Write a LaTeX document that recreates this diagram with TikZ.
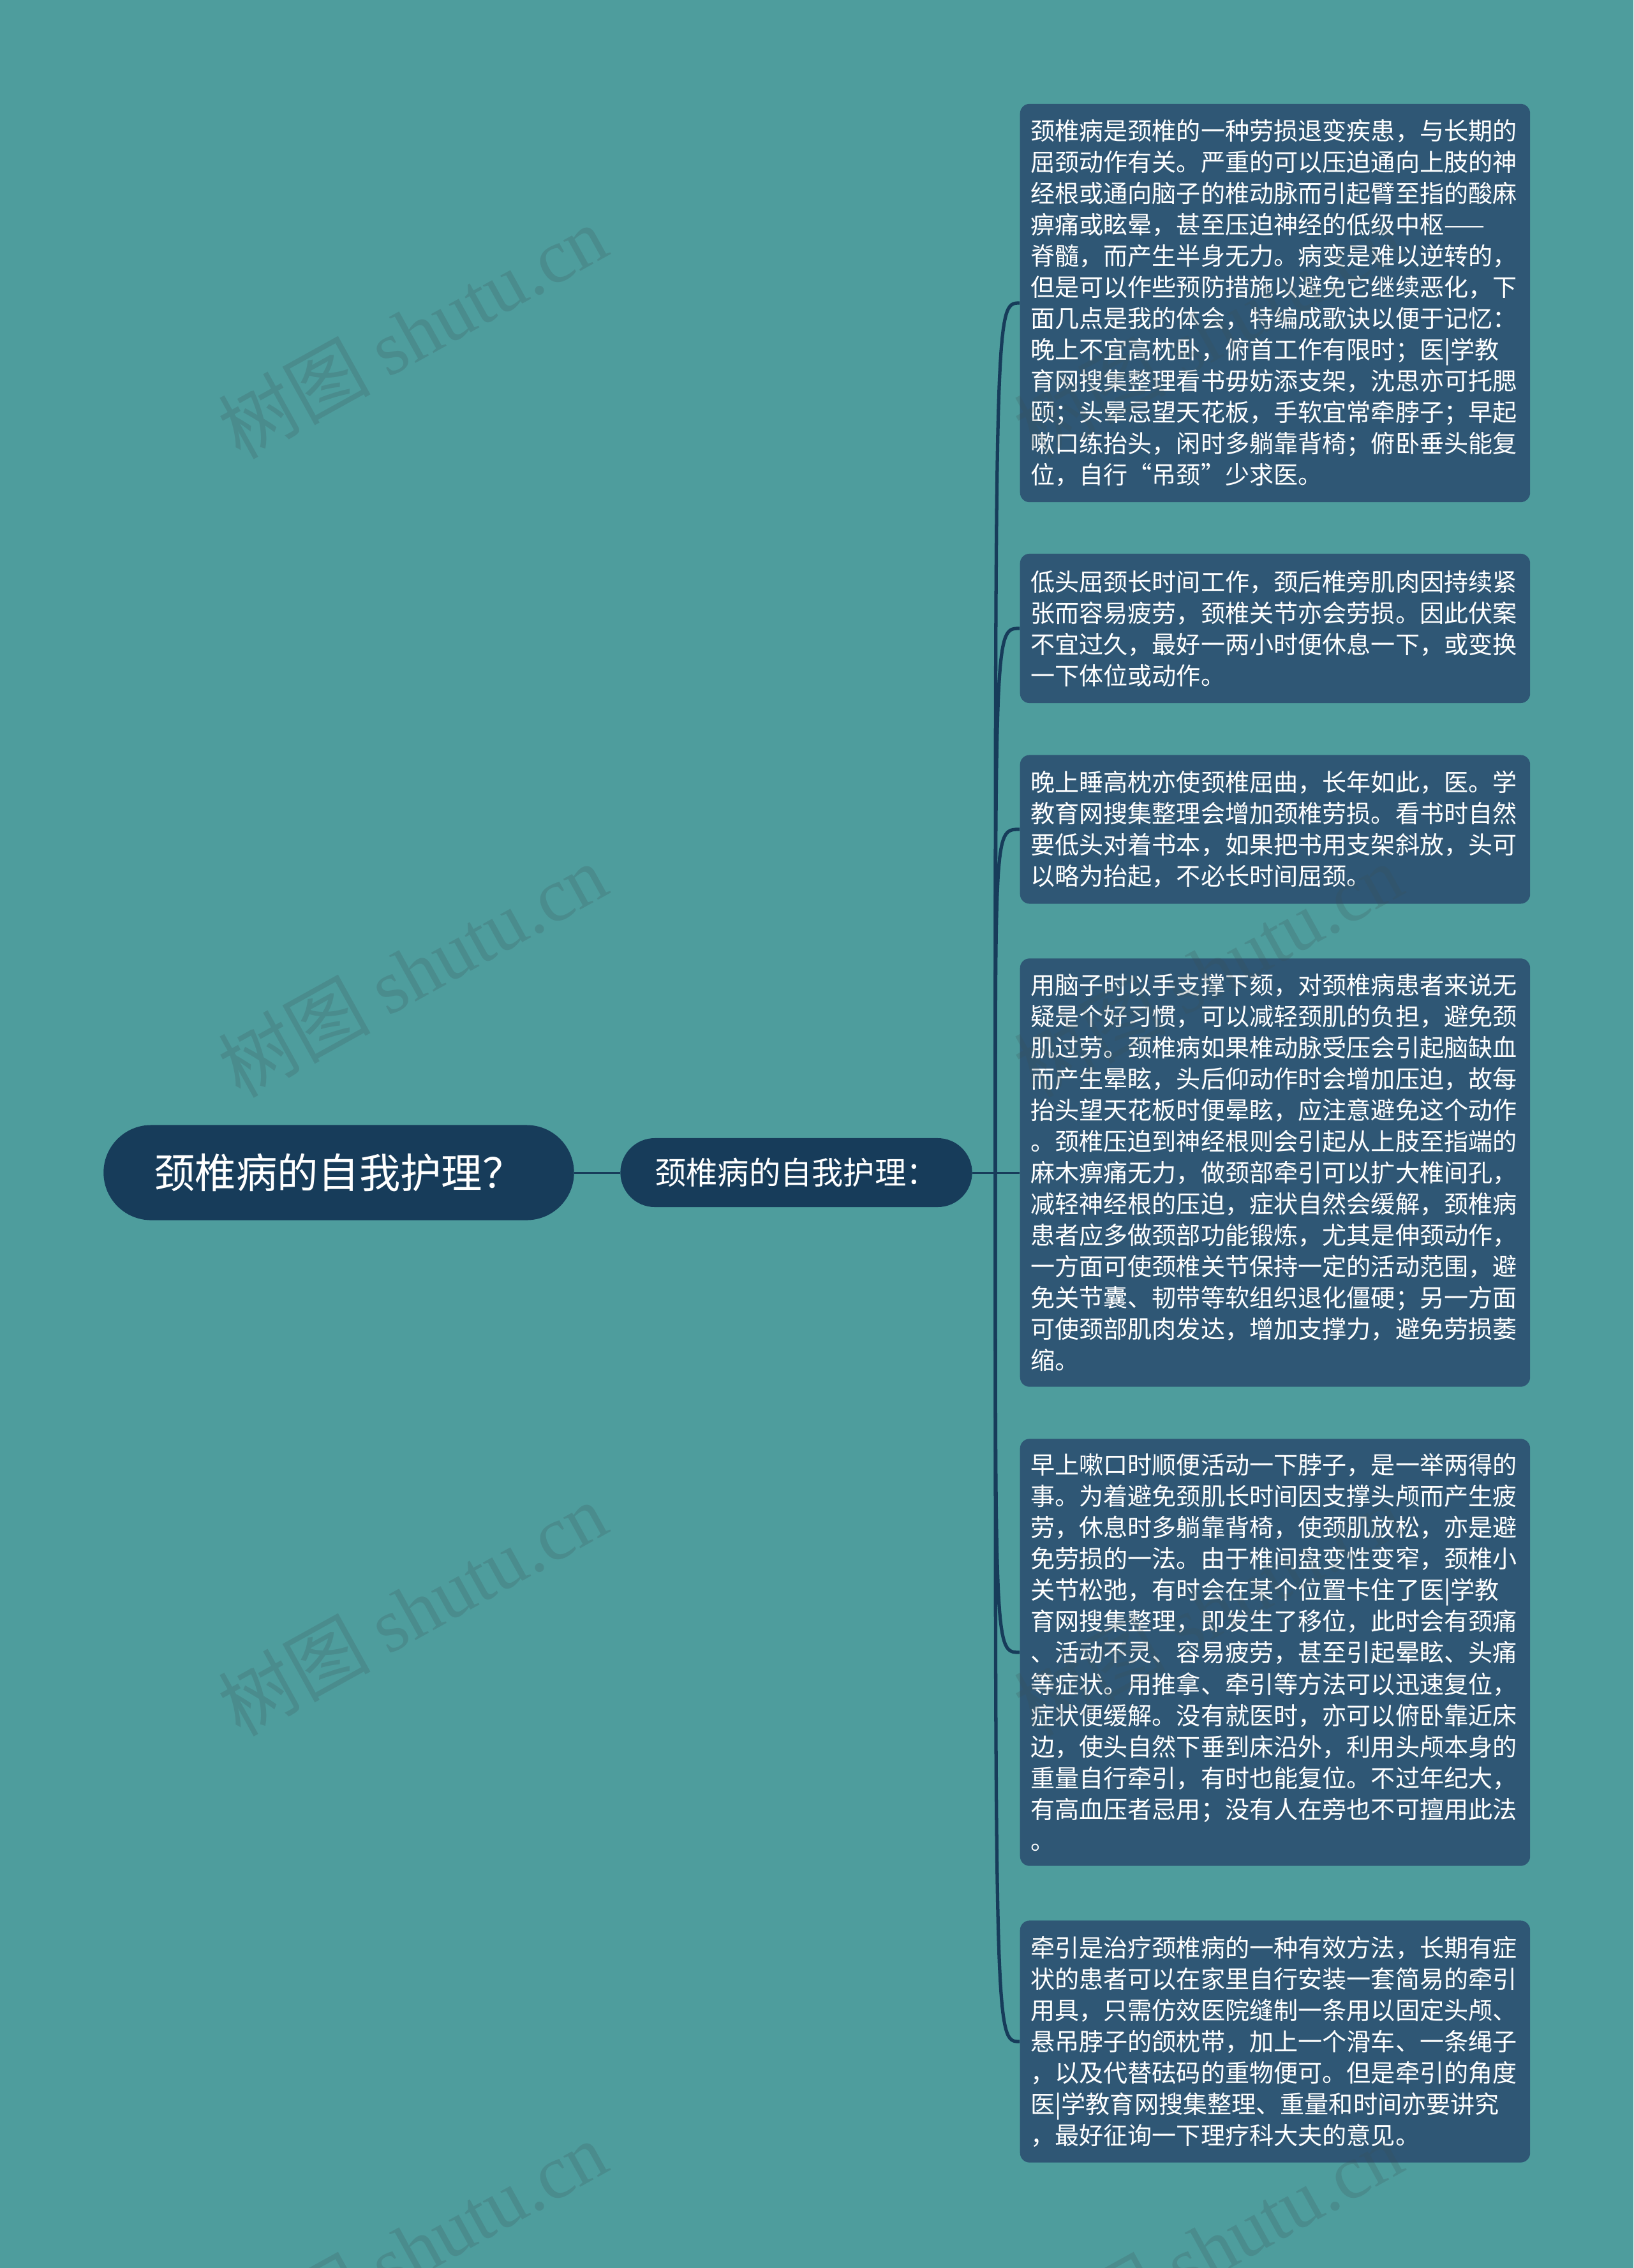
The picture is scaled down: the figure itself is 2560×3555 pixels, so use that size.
\documentclass[tikz,border=0pt]{standalone}
\usepackage{fontspec}
\setmainfont{Noto Sans CJK SC}
\newfontfamily\wmfont{Liberation Serif}
\definecolor{bgteal}{RGB}{78,157,157}
\definecolor{darknavy}{RGB}{23,60,90}
\definecolor{leafblue}{RGB}{47,87,117}
\definecolor{wmgray}{RGB}{60,80,85}

\begin{document}
\begin{tikzpicture}[x=0.01cm,y=-0.01cm]
\tikzstyle{rootnode} = [fill=darknavy, text=white, rounded corners=0.745cm, minimum width=7.37cm, minimum height=1.49cm, inner sep=0, font=\fontsize{18.3}{22}\selectfont]
\tikzstyle{subnode} = [fill=darknavy, text=white, rounded corners=0.54cm, minimum width=5.51cm, minimum height=1.08cm, inner sep=0, font=\fontsize{14}{17}\selectfont]
\tikzstyle{leafnode} = [fill=leafblue, text=white, rounded corners=0.15cm, anchor=west, text width=7.66cm, align=left, inner xsep=0.165cm, inner ysep=0, font=\fontsize{10.84}{13.94}\selectfont]
\tikzstyle{branch} = [draw=darknavy, line width=0.85pt]
\tikzstyle{twig} = [draw=darknavy, line width=1.5pt]
\tikzstyle{wm} = [rotate=29, text=wmgray, text opacity=0.22, font=\fontsize{34}{40}\selectfont]

\useasboundingbox (0,0) rectangle (2560,3555);
\fill [bgteal] (0,0) rectangle (2560,3555);

\node [rootnode] (root) at (531,1838) {颈椎病的自我护理？};
\node [subnode] (sub) at (1248,1838) {颈椎病的自我护理：};

\node [leafnode, minimum height=6.24cm] (t1) at (1598,475) {颈椎病是颈椎的一种劳损退变疾患，与长期的\\屈颈动作有关。严重的可以压迫通向上肢的神\\经根或通向脑子的椎动脉而引起臂至指的酸麻\\痹痛或眩晕，甚至压迫神经的低级中枢——\\脊髓，而产生半身无力。病变是难以逆转的，\\但是可以作些预防措施以避免它继续恶化，下\\面几点是我的体会，特编成歌诀以便于记忆：\\晚上不宜高枕卧，俯首工作有限时；医|学教\\育网搜集整理看书毋妨添支架，沈思亦可托腮\\颐；头晕忌望天花板，手软宜常牵脖子；早起\\嗽口练抬头，闲时多躺靠背椅；俯卧垂头能复\\位，自行“吊颈”少求医。};
\node [leafnode, minimum height=2.34cm] (t2) at (1598,985) {低头屈颈长时间工作，颈后椎旁肌肉因持续紧\\张而容易疲劳，颈椎关节亦会劳损。因此伏案\\不宜过久，最好一两小时便休息一下，或变换\\一下体位或动作。};
\node [leafnode, minimum height=2.33cm] (t3) at (1598,1300) {晚上睡高枕亦使颈椎屈曲，长年如此，医。学\\教育网搜集整理会增加颈椎劳损。看书时自然\\要低头对着书本，如果把书用支架斜放，头可\\以略为抬起，不必长时间屈颈。};
\node [leafnode, minimum height=6.71cm] (t4) at (1598,1838) {用脑子时以手支撑下颏，对颈椎病患者来说无\\疑是个好习惯，可以减轻颈肌的负担，避免颈\\肌过劳。颈椎病如果椎动脉受压会引起脑缺血\\而产生晕眩，头后仰动作时会增加压迫，故每\\抬头望天花板时便晕眩，应注意避免这个动作\\。颈椎压迫到神经根则会引起从上肢至指端的\\麻木痹痛无力，做颈部牵引可以扩大椎间孔，\\减轻神经根的压迫，症状自然会缓解，颈椎病\\患者应多做颈部功能锻炼，尤其是伸颈动作，\\一方面可使颈椎关节保持一定的活动范围，避\\免关节囊、韧带等软组织退化僵硬；另一方面\\可使颈部肌肉发达，增加支撑力，避免劳损萎\\缩。};
\node [leafnode, minimum height=6.69cm] (t5) at (1598,2590) {早上嗽口时顺便活动一下脖子，是一举两得的\\事。为着避免颈肌长时间因支撑头颅而产生疲\\劳，休息时多躺靠背椅，使颈肌放松，亦是避\\免劳损的一法。由于椎间盘变性变窄，颈椎小\\关节松弛，有时会在某个位置卡住了医|学教\\育网搜集整理，即发生了移位，此时会有颈痛\\、活动不灵、容易疲劳，甚至引起晕眩、头痛\\等症状。用推拿、牵引等方法可以迅速复位，\\症状便缓解。没有就医时，亦可以俯卧靠近床\\边，使头自然下垂到床沿外，利用头颅本身的\\重量自行牵引，有时也能复位。不过年纪大，\\有高血压者忌用；没有人在旁也不可擅用此法\\。};
\node [leafnode, minimum height=3.79cm] (t6) at (1598,3200) {牵引是治疗颈椎病的一种有效方法，长期有症\\状的患者可以在家里自行安装一套简易的牵引\\用具，只需仿效医院缝制一条用以固定头颅、\\悬吊脖子的颌枕带，加上一个滑车、一条绳子\\，以及代替砝码的重物便可。但是牵引的角度\\医|学教育网搜集整理、重量和时间亦要讲究\\，最好征询一下理疗科大夫的意见。};

\coordinate (fork) at (1560,1838);

\draw [branch] (root) -- (sub);
\draw [branch] (sub.east) -- (t4.west);
\draw [twig] (fork) .. controls (fork |- t1.west) .. (t1.west);
\draw [twig] (fork) .. controls (fork |- t2.west) .. (t2.west);
\draw [twig] (fork) .. controls (fork |- t3.west) .. (t3.west);
\draw [twig] (fork) .. controls (fork |- t5.west) .. (t5.west);
\draw [twig] (fork) .. controls (fork |- t6.west) .. (t6.west);

% watermark
\node [wm] (wm1) at (646,520) {树图 {\wmfont shutu.cn}};
\node [wm] (wm2) at (646,1521) {树图 {\wmfont shutu.cn}};
\node [wm] (wm3) at (646,2522) {树图 {\wmfont shutu.cn}};
\node [wm] (wm4) at (646,3523) {树图 {\wmfont shutu.cn}};
\node [wm] (wm5) at (1893,520) {树图 {\wmfont shutu.cn}};
\node [wm] (wm6) at (1893,1521) {树图 {\wmfont shutu.cn}};
\node [wm] (wm7) at (1893,2522) {树图 {\wmfont shutu.cn}};
\node [wm] (wm8) at (1893,3523) {树图 {\wmfont shutu.cn}};
\end{tikzpicture}
\end{document}
